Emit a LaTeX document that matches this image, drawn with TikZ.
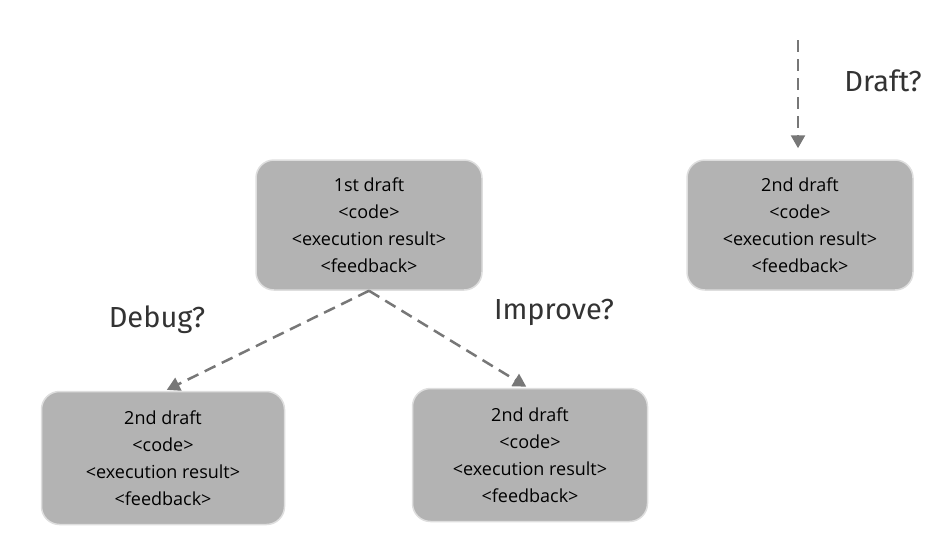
\documentclass[tikz,border=0pt]{standalone}
\usepackage{fontspec}
\setmainfont{Open Sans}
\newfontfamily\labelfont{Fira Sans}
\usepackage{xcolor}
\usetikzlibrary{positioning,arrows.meta}
\definecolor{draftgray}{RGB}{179,179,179}
\definecolor{edgegray}{RGB}{222,222,222}
\definecolor{arrgray}{RGB}{119,119,119}

\begin{document}
\begin{tikzpicture}[x=1pt, y=-1pt,
  draftbox/.style={draw=edgegray, line width=1.5pt, rounded corners=18pt, fill=draftgray,
              minimum width=226pt, minimum height=130pt, align=center,
              font=\fontsize{18}{27}\selectfont, text=black},
  choice/.style={font=\labelfont\fontsize{29}{34}\selectfont, text=black!80},
  arr/.style={-{Triangle[length=13pt, width=14pt]}, arrgray, line width=2.5pt,
              dash pattern=on 12pt off 7pt, shorten >=2pt}]
\useasboundingbox (0,0) rectangle (949,546);
\node[draftbox] (first) at (369,225) {1st draft\\ <code>\\ <execution result>\\ <feedback>};
\node[draftbox] (drafted) at (800,225) {2nd draft\\ <code>\\ <execution result>\\ <feedback>};
\node[draftbox, minimum width=243pt, minimum height=133pt] (debugged) at (163,458) {2nd draft\\ <code>\\ <execution result>\\ <feedback>};
\node[draftbox, minimum width=235pt, minimum height=133pt] (improved) at (530,455) {2nd draft\\ <code>\\ <execution result>\\ <feedback>};
\coordinate (start) at (798,40);
\node[choice] (debug) at (157,320) {Debug?};
\node[choice] (improve) at (554,312) {Improve?};
\node[choice] (draft) at (883,81) {Draft?};
\draw[arr] (first.south) -- ([xshift=2pt]debugged.north);
\draw[arr] (first.south) -- ([xshift=-2pt]improved.north);
\draw[arr, shorten >=11pt] (start) -- (start |- drafted.north);
\end{tikzpicture}
\end{document}
